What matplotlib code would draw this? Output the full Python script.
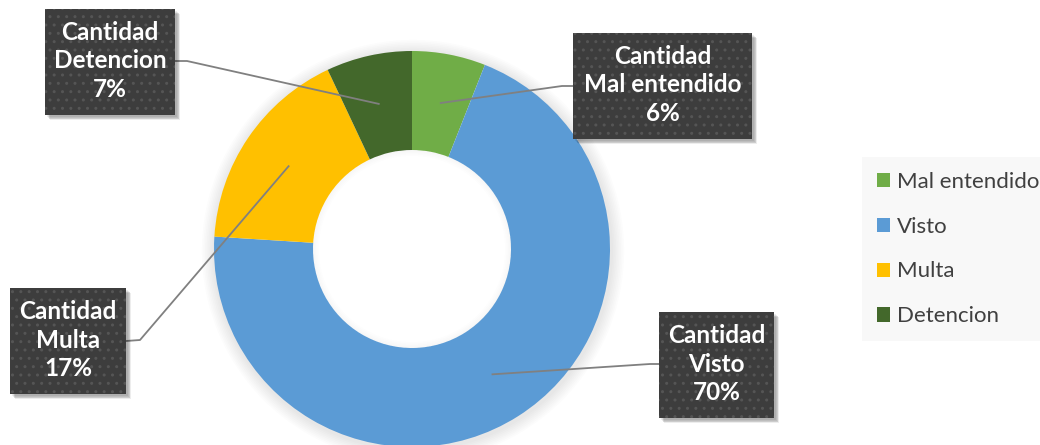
import numpy as np
import matplotlib
matplotlib.use("Agg")
import matplotlib.pyplot as plt
from matplotlib.patches import Rectangle, Circle, Wedge

categories = ["Mal entendido", "Visto", "Multa", "Detencion"]
values = [6, 70, 17, 7]
colors = ["#70AD47", "#5B9BD5", "#FFC000", "#43682B"]
label_prefix = "Cantidad"

W, H = 1040, 445
fig = plt.figure(figsize=(W / 100, H / 100), dpi=100)
ax = fig.add_axes([0, 0, 1, 1])

def py(y):
    return H - y

cx, cy = 412, py(249)
R, r = 198, 99

# soft shadow / glow around donut (rings only, hole stays white)
for i in range(8):
    rad = R + 2 + i * 1.6
    ax.add_patch(Wedge((cx + 1, cy - 2), rad, 0, 360, width=rad - R + 4,
                       color="black", alpha=0.010, lw=0, zorder=0))

wedges, _ = ax.pie(values, colors=colors, startangle=90, counterclock=False,
                   center=(cx, cy), radius=R, frame=True,
                   wedgeprops=dict(width=R - r, linewidth=0))
ax.set_xlim(0, W)
ax.set_ylim(0, H)
ax.set_aspect("equal")
ax.axis("off")

# subtle inner shadow inside hole
for i in range(4):
    ax.add_patch(Wedge((cx, cy), r, 0, 360, width=1.5 + i * 1.5,
                       color="black", alpha=0.008, lw=0, zorder=3))

# label boxes (pixel coords: x0, top, x1, bottom)
boxes = [(573, 33, 752, 139), (659, 312, 774, 418), (10, 288, 126, 394), (45, 9, 175, 115)]
# leader line start on box edge and bend point
anchors = [((573, 86), (562, 86)), ((659, 364), (650, 364)),
           ((126, 341), (140, 340)), ((175, 61), (187, 61))]

total = sum(values)
cum = 0
for cat, v, box, anc in zip(categories, values, boxes, anchors):
    mid = (cum + v / 2) / total
    cum += v
    ang = np.deg2rad(90 - mid * 360)
    rm = (R + r) / 2
    ex, ey = cx + rm * np.cos(ang), cy + rm * np.sin(ang)
    (sx, sy), (bx, by) = anc
    ax.plot([sx, bx, ex], [py(sy), py(by), ey], color="#808080", lw=1.3, zorder=5,
            solid_capstyle="butt")
    x0, y0, x1, y1 = box
    w, h = x1 - x0, y1 - y0
    for k in range(5):
        ax.add_patch(Rectangle((x0 + 2 + k * 0.8, py(y1) - 2 - k * 0.8), w, h,
                               facecolor="black", alpha=0.07, lw=0, zorder=6))
    ax.add_patch(Rectangle((x0, py(y1)), w, h, facecolor="#3d3d3d", lw=0, zorder=7))
    ax.add_patch(Rectangle((x0, py(y1)), w, h, facecolor="none", edgecolor="#555555",
                           hatch="..", lw=0, zorder=7))
    pct = f"{round(100 * v / total)}%"
    ax.text(x0 + w / 2, py(y0 + h / 2) + 1, f"{label_prefix}\n{cat}\n{pct}",
            ha="center", va="center", color="white", fontsize=17.5,
            fontweight="bold", family="Lato", linespacing=1.28, zorder=8)

# legend
leg = ax.legend(wedges, categories, loc="upper left",
                bbox_to_anchor=(862 / W, 1 - 157 / H), frameon=True,
                prop=dict(family="Lato", size=16), labelcolor="#404040",
                handlelength=0.6, handleheight=0.6, handletextpad=0.3,
                labelspacing=1.12, borderpad=0.66, borderaxespad=0)
leg.get_frame().set_facecolor("#f7f7f7")
leg.get_frame().set_edgecolor("none")
leg.get_frame().set_boxstyle("square", pad=0)

fig.savefig("out.png", dpi=100, facecolor="white")
